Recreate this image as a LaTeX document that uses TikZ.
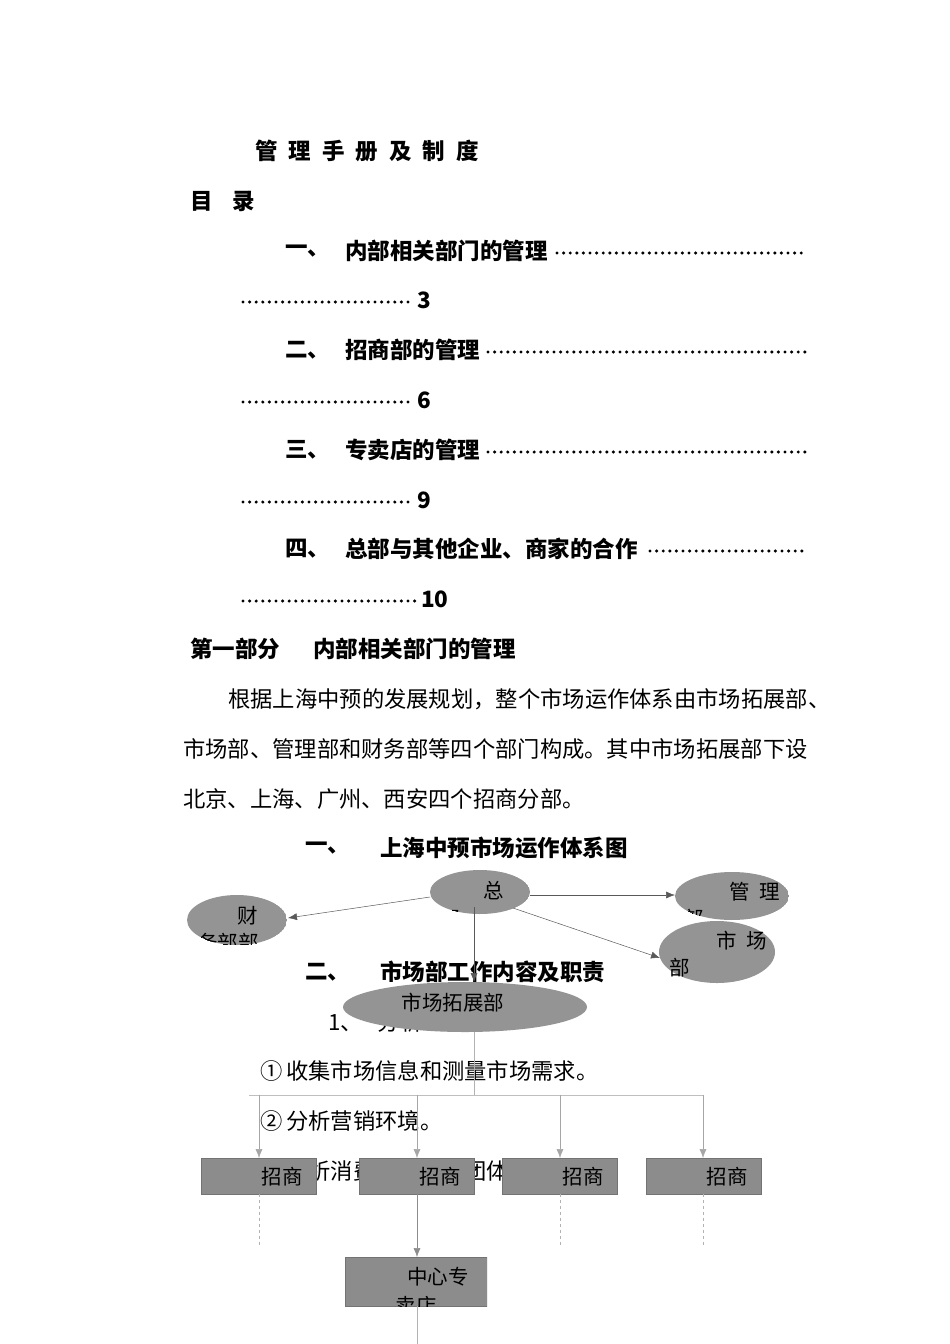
\documentclass[tikz,border=0pt]{standalone}
\usepackage{fontspec}
\setmainfont{Noto Sans CJK SC}
\usetikzlibrary{arrows.meta}
\begin{document}
\begin{tikzpicture}[x=1pt,y=-1pt,
  t/.style={anchor=west,inner sep=0pt,font=\fontsize{22.3}{22}\selectfont},
  tb/.style={anchor=west,inner sep=0pt,font=\fontsize{22.5}{22}\selectfont\bfseries},
  dots/.style={line width=3.4pt,line cap=round,dash pattern=on 0pt off 6.6pt},
  ell/.style={fill=black!42},
  box/.style={fill=black!45,draw=black!55},
  con/.style={draw=black!65,line width=0.5pt},
  arr/.style={con,-{Latex[length=9pt,width=7pt]}},
  lt/.style={inner sep=0pt,font=\fontsize{20.5}{20}\selectfont}]
\useasboundingbox (0,0) rectangle (950,1344);
\fill[white] (0,0) rectangle (950,1344);
\node[tb] (title) at (255,151) {管\hspace{11pt}理\hspace{11pt}手\hspace{11pt}册\hspace{11pt}及\hspace{11pt}制\hspace{11pt}度};
\node[tb] (mulu) at (190,201) {目\hspace{20pt}录};
\node[tb] (a1) at (285,251) {一、};
\node[tb] (a2) at (345,251) {内部相关部门的管理};
\draw[dots] (557,253) -- (805,253);
\draw[dots] (243,302) -- (410,302);
\node[tb] (p3) at (417,300) {3};
\node[tb] (b1) at (285,350) {二、};
\node[tb] (b2) at (345,350) {招商部的管理};
\draw[dots] (488,352) -- (805,352);
\draw[dots] (243,402) -- (410,402);
\node[tb] (p6) at (417,400) {6};
\node[tb] (c1) at (285,450) {三、};
\node[tb] (c2) at (345,450) {专卖店的管理};
\draw[dots] (488,452) -- (805,452);
\draw[dots] (243,502) -- (412,502);
\node[tb] (p9) at (417,500) {9};
\node[tb] (d1) at (285,549) {四、};
\node[tb] (d2) at (345,549) {总部与其他企业、商家的合作};
\draw[dots] (650,551) -- (805,551);
\draw[dots] (243,601) -- (418,601);
\node[tb] (p10) at (421,599) {10};
\node[tb] (part) at (190,649) {第一部分};
\node[tb] (part2) at (313,649) {内部相关部门的管理};
\node[t] (l1) at (228,699) {根据上海中预的发展规划，整个市场运作体系由市场拓展部、};
\node[t] (l2) at (183,749) {市场部、管理部和财务部等四个部门构成。其中市场拓展部下设};
\node[t] (l3) at (183,799) {北京、上海、广州、西安四个招商分部。};
\node[tb] (h1) at (305,848) {一、};
\node[tb] (h2) at (380,848) {上海中预市场运作体系图};
\node[tb] (h3) at (305,972) {二、};
\node[tb] (h4) at (380,972) {市场部工作内容及职责};
\node[t] (n1) at (328,1022) {1、\ \ \ 分析};
\node[t] (i1) at (260,1071) {①\,收集市场信息和测量市场需求。};
\node[t] (i2) at (260,1121) {②\,分析营销环境。};
\node[t] (i3) at (260,1171) {③\,分析消费者市场和团体购买行为。};
% ellipses
\begin{scope}\clip (480,892) ellipse (50 and 22);
\fill[ell] (480,892) ellipse (50 and 22);
\node[lt] at (450,919) {部};\end{scope}
\node[lt] (zong) at (494,891) {总};
\begin{scope}\clip (237,920) ellipse (50 and 25);
\fill[ell] (237,920) ellipse (50 and 25);
\node[lt] at (228,943) {务部部};\end{scope}
\node[lt] (cai) at (248,916) {财};
\begin{scope}\clip (732,896) ellipse (57 and 24);
\fill[ell] (732,896) ellipse (57 and 24);
\node[lt] at (694,919) {部};\end{scope}
\node[lt] (guanli) at (755,892) {管\ \ 理};
\fill[ell] (717,952) ellipse (58 and 31);
\node[lt] (shichang) at (742,941) {市\ \ 场};
\node[lt] (bu3) at (680,968) {部};
\fill[ell] (465,1007) ellipse (122 and 25);
\node[lt] (tuozhan) at (453,1003) {市场拓展部};
\draw[arr] (430,897) -- (288,918);
\draw[arr] (530,895) -- (675,895);
\draw[arr] (513,908) -- (660,958);
\draw[arr] (474,907) -- (474,982);
\draw[con,draw=black!30] (474,1032) -- (474,1095);
\draw[con,draw=black!25,line width=1pt] (249,1095) -- (703,1095);
\foreach \x in {259,417,560,703}{\draw[arr,draw=black!35] (\x,1095) -- (\x,1158);}
\foreach \x/\n in {201/z1,359/z2,502/z3,646/z4}{
  \fill[box] (\x,1158) rectangle ++(115,36);
  \node[lt] (\n) at (\x+81,1177) {招商};}
\foreach \x in {259,560,703}{\draw[draw=black!30,dashed,line width=0.4pt] (\x,1194) -- (\x,1245);}
\draw[arr,draw=black!45] (417,1194) -- (417,1257);
\begin{scope}\clip (345,1257) rectangle (487,1306);
\fill[box] (345,1257) rectangle (487,1306);
\node[lt] at (416,1306) {卖店};\end{scope}
\node[lt] (zx) at (438,1277) {中心专};
\draw[draw=black!30] (417,1306) -- (417,1344);
\end{tikzpicture}
\end{document}
